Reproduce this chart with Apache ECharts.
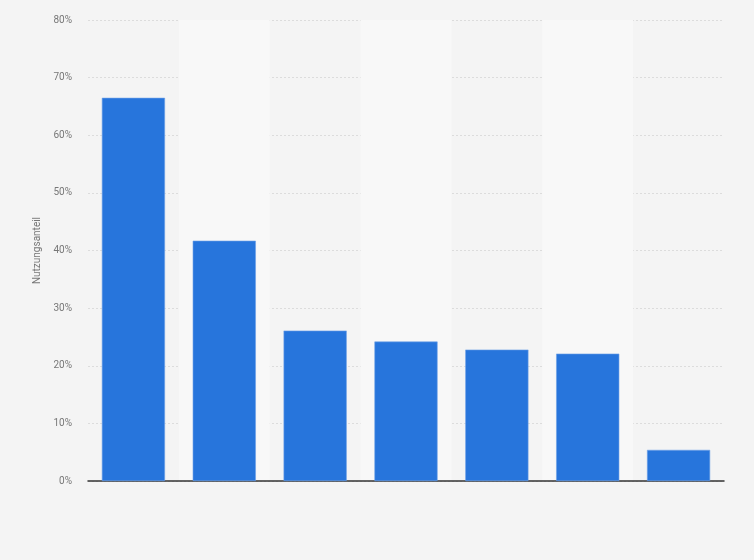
<!doctype html>
<html lang="de">
  <head>
    <meta charset="UTF-8" />
    <title>Nutzungsanteil</title>
    <script src="https://cdn.jsdelivr.net/npm/echarts/dist/echarts.min.js"></script>
    <style>
      html, body { margin: 0; padding: 0; background: #f4f4f4; }
      #main { width: 754px; height: 560px; }
    </style>
  </head>
  <body>
    <div id="main"></div>
    <script>
      // Kategorien (im Original ohne sichtbare Beschriftung)
      const categories = ["1", "2", "3", "4", "5", "6", "7"];
      // Nutzungsanteil in Prozent
      const values = [66.5, 41.7, 26.1, 24.2, 22.8, 22.1, 5.4];
      const yTicks = [0, 10, 20, 30, 40, 50, 60, 70, 80];

      const myChart = echarts.init(document.getElementById("main"));

      const option = {
        backgroundColor: "#f4f4f4",
        textStyle: { fontFamily: "Roboto, 'Noto Sans', sans-serif" },
        grid: { left: 88, right: 30, top: 20, bottom: 79 },
        xAxis: {
          type: "category",
          data: categories,
          axisLine: { lineStyle: { color: "#333", width: 1.5 } },
          axisTick: { show: false },
          axisLabel: { show: false },
          splitArea: {
            show: true,
            areaStyle: { color: ["rgba(0,0,0,0)", "#f8f8f8"] },
          },
        },
        yAxis: {
          type: "value",
          min: yTicks[0],
          max: yTicks[yTicks.length - 1],
          interval: 10,
          name: "Nutzungsanteil",
          nameLocation: "middle",
          nameGap: 43,
          nameTextStyle: { color: "#777", fontSize: 10 },
          axisLine: { show: false },
          axisTick: { show: false },
          axisLabel: {
            color: "#777",
            fontSize: 10,
            margin: 16,
            formatter: "{value}%",
          },
          splitLine: {
            lineStyle: { color: "#dcdcdc", type: [2, 2], width: 1 },
          },
        },
        series: [
          {
            type: "bar",
            data: values,
            barCategoryGap: "30.5%",
            itemStyle: {
              color: "#2775dc",
              borderColor: "#6ea1e8",
              borderWidth: 0.6,
            },
          },
        ],
      };

      myChart.setOption(option);
    </script>
  </body>
</html>
